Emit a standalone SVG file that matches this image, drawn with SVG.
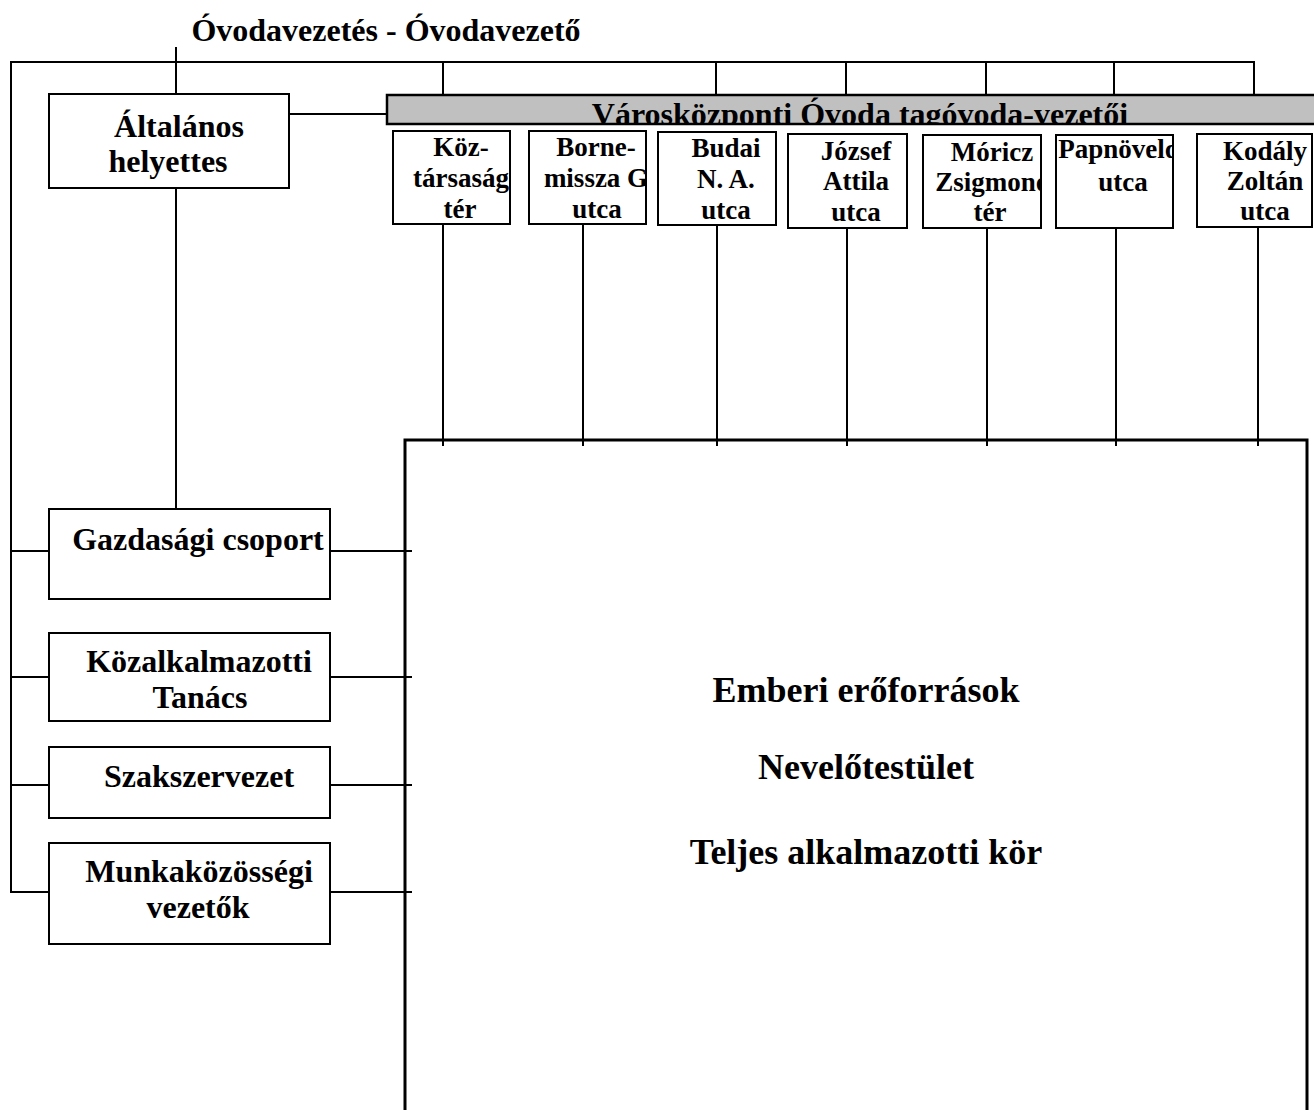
<svg xmlns="http://www.w3.org/2000/svg" width="1314" height="1110" viewBox="0 0 1314 1110">
<style>
  .t { font-family: "Liberation Serif", "Times New Roman", serif; font-weight: bold; fill: #000; }
  .big { font-size: 36px; text-anchor: middle; }
  .box { font-size: 32px; text-anchor: middle; }
  .st { font-size: 27px; text-anchor: middle; }
  .node { fill: #fff; stroke: #000; stroke-width: 2; }
  .bar { fill: #c0c0c0; stroke: #000; stroke-width: 2.5; }
  .main { fill: #fff; stroke: #000; stroke-width: 3; }
  .conn line { stroke: #000; stroke-width: 2; }
</style>
<defs>
  <clipPath id="cBar"><rect x="388" y="96" width="930" height="27"/></clipPath>
  <clipPath id="c1"><rect x="394" y="132" width="115" height="91"/></clipPath>
  <clipPath id="c2"><rect x="530" y="132" width="115" height="91"/></clipPath>
  <clipPath id="c3"><rect x="659" y="133" width="116" height="91"/></clipPath>
  <clipPath id="c4"><rect x="789" y="135" width="117" height="92"/></clipPath>
  <clipPath id="c5"><rect x="924" y="136" width="116" height="91"/></clipPath>
  <clipPath id="c6"><rect x="1057" y="136" width="115" height="91"/></clipPath>
  <clipPath id="c7"><rect x="1198" y="135" width="120" height="91"/></clipPath>
</defs>
<rect width="1314" height="1110" fill="#fff"/>

<g id="main-area">
  <rect class="main" x="405" y="440" width="902" height="700"/>
  <text class="t big" x="866" y="702">Emberi erőforrások</text>
  <text class="t big" x="866" y="779">Nevelőtestület</text>
  <text class="t big" x="866" y="864">Teljes alkalmazotti kör</text>
</g>

<g class="conn" id="connectors">
  <line x1="176" y1="47" x2="176" y2="94"/>
  <line x1="11" y1="62" x2="1255" y2="62"/>
  <line x1="443" y1="62" x2="443" y2="95"/>
  <line x1="716" y1="62" x2="716" y2="95"/>
  <line x1="846" y1="62" x2="846" y2="95"/>
  <line x1="986" y1="62" x2="986" y2="95"/>
  <line x1="1114" y1="62" x2="1114" y2="95"/>
  <line x1="1254" y1="62" x2="1254" y2="95"/>
  <line x1="11" y1="61" x2="11" y2="893"/>
  <line x1="289" y1="114" x2="387" y2="114"/>
  <line x1="176" y1="188" x2="176" y2="509"/>
  <line x1="11" y1="551" x2="49" y2="551"/>
  <line x1="11" y1="677" x2="49" y2="677"/>
  <line x1="11" y1="785" x2="49" y2="785"/>
  <line x1="11" y1="892" x2="49" y2="892"/>
  <line x1="330" y1="551" x2="412" y2="551"/>
  <line x1="330" y1="677" x2="412" y2="677"/>
  <line x1="330" y1="785" x2="412" y2="785"/>
  <line x1="330" y1="892" x2="412" y2="892"/>
  <line x1="443" y1="224" x2="443" y2="446"/>
  <line x1="583" y1="224" x2="583" y2="446"/>
  <line x1="717" y1="225" x2="717" y2="446"/>
  <line x1="847" y1="228" x2="847" y2="446"/>
  <line x1="987" y1="228" x2="987" y2="446"/>
  <line x1="1116" y1="228" x2="1116" y2="446"/>
  <line x1="1258" y1="227" x2="1258" y2="446"/>
</g>

<g id="title">
  <text class="t box" x="386" y="41">Óvodavezetés - Óvodavezető</text>
</g>

<g id="helyettes">
  <rect class="node" x="49" y="94" width="240" height="94"/>
  <text class="t box" x="179" y="137">Általános</text>
  <text class="t box" x="168" y="172">helyettes</text>
</g>

<g id="tagovoda-bar">
  <rect class="bar" x="387" y="95" width="940" height="29"/>
  <text class="t" font-size="32" text-anchor="middle" x="860" y="125" clip-path="url(#cBar)">Városközponti Óvoda tagóvoda-vezetői</text>
</g>

<g id="koztarsasag">
  <rect class="node" x="393" y="131" width="117" height="93"/>
  <g clip-path="url(#c1)">
    <text class="t st" x="461" y="156">Köz-</text>
    <text class="t st" x="461" y="187">társaság</text>
    <text class="t st" x="460" y="218">tér</text>
  </g>
</g>
<g id="bornemissza">
  <rect class="node" x="529" y="131" width="117" height="93"/>
  <g clip-path="url(#c2)">
    <text class="t st" x="596" y="156">Borne-</text>
    <text class="t st" x="596" y="187">missza G</text>
    <text class="t st" x="597" y="218">utca</text>
  </g>
</g>
<g id="budai">
  <rect class="node" x="658" y="132" width="118" height="93"/>
  <g clip-path="url(#c3)">
    <text class="t st" x="726" y="157">Budai</text>
    <text class="t st" x="726" y="188">N. A.</text>
    <text class="t st" x="726" y="219">utca</text>
  </g>
</g>
<g id="jozsef">
  <rect class="node" x="788" y="134" width="119" height="94"/>
  <g clip-path="url(#c4)">
    <text class="t st" x="856" y="160">József</text>
    <text class="t st" x="856" y="190">Attila</text>
    <text class="t st" x="856" y="221">utca</text>
  </g>
</g>
<g id="moricz">
  <rect class="node" x="923" y="135" width="118" height="93"/>
  <g clip-path="url(#c5)">
    <text class="t st" x="992" y="161">Móricz</text>
    <text class="t st" x="993" y="191">Zsigmond</text>
    <text class="t st" x="990" y="221">tér</text>
  </g>
</g>
<g id="papnovelde">
  <rect class="node" x="1056" y="135" width="117" height="93"/>
  <g clip-path="url(#c6)">
    <text class="t st" x="1125" y="158">Papnövelde</text>
    <text class="t st" x="1123" y="191">utca</text>
  </g>
</g>
<g id="kodaly">
  <rect class="node" x="1197" y="134" width="115" height="93"/>
  <g clip-path="url(#c7)">
    <text class="t st" x="1265" y="160">Kodály</text>
    <text class="t st" x="1265" y="190">Zoltán</text>
    <text class="t st" x="1265" y="220">utca</text>
  </g>
</g>

<g id="gazdasagi">
  <rect class="node" x="49" y="509" width="281" height="90"/>
  <text class="t box" x="198" y="550">Gazdasági csoport</text>
</g>
<g id="kozalkalmazotti">
  <rect class="node" x="49" y="633" width="281" height="88"/>
  <text class="t box" x="199" y="672">Közalkalmazotti</text>
  <text class="t box" x="200" y="708">Tanács</text>
</g>
<g id="szakszervezet">
  <rect class="node" x="49" y="747" width="281" height="71"/>
  <text class="t box" x="199" y="787">Szakszervezet</text>
</g>
<g id="munkakozossegi">
  <rect class="node" x="49" y="843" width="281" height="101"/>
  <text class="t box" x="199" y="882">Munkaközösségi</text>
  <text class="t box" x="198" y="918">vezetők</text>
</g>
</svg>
